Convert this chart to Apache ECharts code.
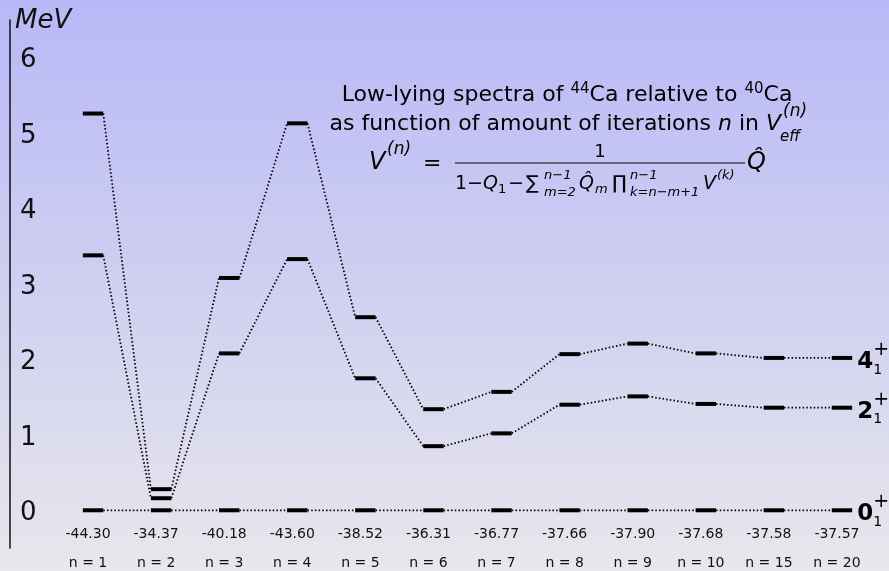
<!DOCTYPE html>
<html>
<head>
<meta charset="utf-8">
<script src="https://cdn.jsdelivr.net/npm/echarts@6/dist/echarts.min.js"></script>
<style>
  html, body { margin: 0; padding: 0; }
  #spectra { width: 889px; height: 571px; }
</style>
</head>
<body>
<div id="spectra"></div>
<script>
// binding energies (MeV) shown under each column
var energies = ['-44.30', '-34.37', '-40.18', '-43.60', '-38.52', '-36.31',
                '-36.77', '-37.66', '-37.90', '-37.68', '-37.58', '-37.57'];
// number of iterations n
var iterations = [1, 2, 3, 4, 5, 6, 7, 8, 9, 10, 15, 20];
// excitation energies (MeV) of the levels
var level0 = [0, 0, 0, 0, 0, 0, 0, 0, 0, 0, 0, 0];
var level2 = [3.38, 0.16, 2.08, 3.33, 1.75, 0.85, 1.02, 1.40, 1.51, 1.41, 1.36, 1.36];
var level4 = [5.26, 0.28, 3.08, 5.13, 2.56, 1.34, 1.57, 2.07, 2.21, 2.08, 2.02, 2.02];
var yTicks = [0, 1, 2, 3, 4, 5, 6];

var FONT = 'DejaVu Sans';
var chart = echarts.init(document.getElementById('spectra'));

function levelSeries(name, vals, spin) {
	return {
		type : 'custom',
		name : name,
		clip : false,
		data : vals.map(function(v, i) { return [ i, v ]; }),
		renderItem : function(params, api) {
			var i = api.value(0);
			var p = api.coord([ i, api.value(1) ]);
			var hw = api.size([ 1, 0 ])[0] * 0.15;
			var kids = [ {
				type : 'line',
				shape : { x1 : p[0] - hw, y1 : p[1], x2 : p[0] + hw, y2 : p[1] },
				style : { stroke : '#000', lineWidth : 4 }
			} ];
			if (i < vals.length - 1) {
				var q = api.coord([ i + 1, vals[i + 1] ]);
				kids.push({
					type : 'line',
					shape : { x1 : p[0] + hw, y1 : p[1], x2 : q[0] - hw, y2 : q[1] },
					style : { stroke : '#000', lineWidth : 1.8, lineDash : [ 1.5, 2.2 ] }
				});
			} else {
				var lx = p[0] + hw + 5;
				kids.push({
					type : 'text', x : lx, y : p[1] + 4,
					style : { text : spin, font : 'bold 23px ' + FONT, fill : '#000', align : 'left', verticalAlign : 'middle' }
				}, {
					type : 'text', x : lx + 16, y : p[1] - 8,
					style : { text : '+', font : '19px ' + FONT, fill : '#000', align : 'left', verticalAlign : 'middle' }
				}, {
					type : 'text', x : lx + 16, y : p[1] + 12,
					style : { text : '1', font : '14px ' + FONT, fill : '#000', align : 'left', verticalAlign : 'middle' }
				});
			}
			return { type : 'group', children : kids };
		}
	};
}

function txt(x, y, text, size, opts) {
	opts = opts || {};
	return {
		type : 'text', x : x, y : y, z : 10,
		style : {
			text : text,
			font : (opts.italic ? 'italic ' : '') + size + 'px ' + FONT,
			fill : '#000',
			align : opts.align || 'left',
			verticalAlign : 'middle',
			lineHeight : opts.lineHeight,
			rich : opts.rich
		}
	};
}

var supRich = { fontSize : 15, fontFamily : FONT, lineHeight : 12, verticalAlign : 'top' };
var itRich = { fontSize : 22, fontFamily : FONT, fontStyle : 'italic' };

var option = {
	animation : false,
	grid : { left : 59, right : 13, top : 20, bottom : 23 },
	xAxis : {
		type : 'category',
		data : energies,
		axisLine : { show : false },
		axisTick : { show : false },
		splitLine : { show : false },
		axisLabel : {
			interval : 0,
			margin : -28,
			padding : [ 0, 10, 0, 0 ],
			formatter : function(v, idx) {
				return '{e|' + v + '}\n{n|n = ' + iterations[idx] + '}';
			},
			rich : {
				e : { fontSize : 14, lineHeight : 29, fontFamily : FONT, color : '#111' },
				n : { fontSize : 14, lineHeight : 29, fontFamily : FONT, color : '#111' }
			}
		}
	},
	yAxis : {
		type : 'value',
		min : -0.5,
		max : 6.5,
		interval : 0.5,
		offset : 49,
		name : 'MeV',
		nameLocation : 'end',
		nameGap : -1,
		nameTextStyle : { fontStyle : 'italic', fontSize : 26, fontFamily : FONT, color : '#111', align : 'left', verticalAlign : 'middle', padding : [ 0, 0, 0, 5 ] },
		axisLine : { show : true, lineStyle : { color : '#111', width : 1.5 } },
		axisTick : { show : false },
		splitLine : { show : false },
		axisLabel : {
			inside : true,
			margin : 10,
			formatter : function(v) {
				return yTicks.indexOf(v) >= 0 ? '{t|' + v + '}' : '';
			},
			rich : {
				t : { fontSize : 26, fontFamily : FONT, color : '#111', padding : [ 6, 0, 0, 0 ] }
			}
		}
	},
	graphic : [
		{
			type : 'rect', z : -100, silent : true,
			shape : { x : 0, y : 0, width : 889, height : 571 },
			style : { fill : new echarts.graphic.LinearGradient(0, 0, 0, 1, [
				{ offset : 0, color : '#b8b8f7' },
				{ offset : 0.5, color : '#cfcff1' },
				{ offset : 1, color : '#e7e7ec' } ]) }
		},
		txt(567, 95, 'Low-lying spectra of {sup|44}Ca relative to {sup|40}Ca', 22, { align : 'center', lineHeight : 26, rich : { sup : supRich } }),
		txt(781, 124, 'as function of amount of iterations {i|n} in {i|V}', 22, { align : 'right', lineHeight : 26, rich : { i : itRich } }),
		txt(783, 112, '(n)', 17, { italic : true }),
		txt(780, 137, 'eff', 15, { italic : true }),
		// formula
		txt(369, 163, 'V', 24, { italic : true }),
		txt(387, 150, '(n)', 17, { italic : true }),
		txt(423, 164, '=', 22),
		{ type : 'line', z : 10, shape : { x1 : 455, y1 : 163, x2 : 745, y2 : 163 }, style : { stroke : '#000', lineWidth : 1 } },
		txt(600, 152, '1', 18, { align : 'center' }),
		txt(455, 184, '1\u2212{i|Q}', 19, { rich : { i : { fontSize : 19, fontFamily : FONT, fontStyle : 'italic' } } }),
		txt(498, 190, '1', 13),
		txt(508, 184, '\u2212', 19),
		txt(526, 184, '\u2211', 19),
		txt(544, 176, 'n\u22121', 13, { italic : true }),
		txt(544, 193, 'm=2', 13, { italic : true }),
		txt(579, 184, 'Q\u0302', 19, { italic : true }),
		txt(595, 190, 'm', 13, { italic : true }),
		txt(612, 184, '\u220F', 19),
		txt(630, 176, 'n\u22121', 13, { italic : true }),
		txt(630, 193, 'k=n\u2212m+1', 13, { italic : true }),
		txt(703, 184, 'V', 19, { italic : true }),
		txt(717, 176, '(k)', 13, { italic : true }),
		txt(747, 163, 'Q\u0302', 24, { italic : true })
	],
	series : [ levelSeries('0+', level0, '0'), levelSeries('2+', level2, '2'), levelSeries('4+', level4, '4') ]
};
chart.setOption(option);

window.onresize = function() {
	chart.resize();
};
</script>
</body>
</html>
